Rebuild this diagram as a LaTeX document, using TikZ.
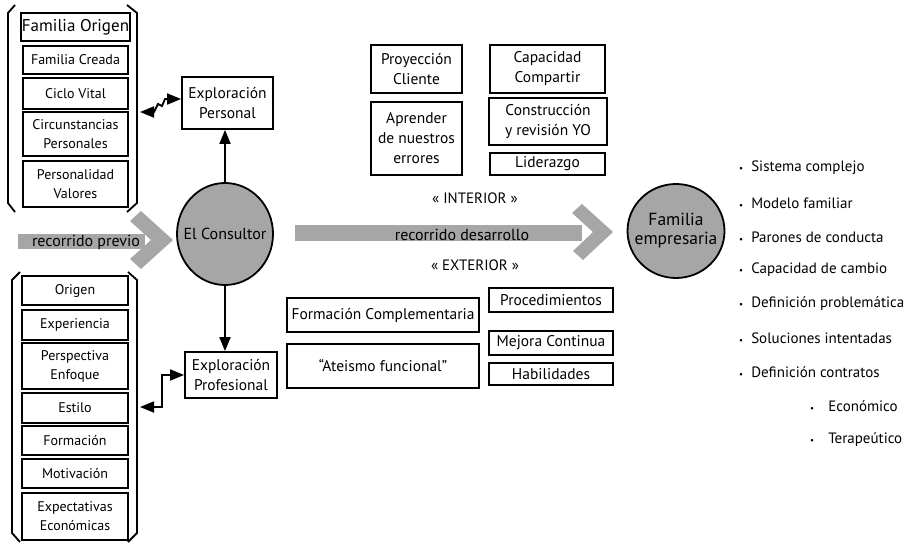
\documentclass[tikz,border=0pt]{standalone}
\usepackage{fontspec}
\setmainfont{PT Sans}
\usetikzlibrary{shapes.geometric,arrows.meta}
\definecolor{gris}{RGB}{166,166,166}
\begin{document}
\begin{tikzpicture}[x=1pt,y=-1pt,
	caja/.style={draw,line width=1.8pt,align=center,inner sep=1pt,font=\fontsize{15.5}{20}\selectfont},
	chica/.style={caja,font=\fontsize{14}{19}\selectfont},
	bola/.style={ellipse,draw,line width=1.8pt,fill=gris,inner sep=0pt,font=\fontsize{16}{21}\selectfont},
	llave/.style={line width=1.8pt},
	flecha/.style={line width=1.8pt,-{Triangle[length=14pt,width=11pt]}},
	dflecha/.style={line width=1.8pt,{Triangle[length=14pt,width=11pt]}-{Triangle[length=14pt,width=11pt]}},
	lista/.style={anchor=west,inner sep=0pt,font=\fontsize{15}{17}\selectfont},
	rotulo/.style={inner sep=0pt,font=\fontsize{15}{17}\selectfont}]
	\useasboundingbox (0,0) rectangle (917,543);
	
	%consultor
	\node[bola,minimum width=96pt,minimum height=102pt](cons) at (225,234) {\makebox[0pt]{El Consultor}};
	\node[caja,minimum width=91pt,minimum height=52pt](expers) at (227.5,103) {Exploración\\Personal};
	\node[caja,minimum width=92pt,minimum height=46pt](exprof) at (231,375) {Exploración\\Profesional};
	\draw[flecha] (cons.north) -- (cons.north |- expers.south);
	\draw[flecha] (cons.south) -- (cons.south |- exprof.north);
	
	%personal
	\draw[llave] (15,5) -- (8,13) -- (8,203) -- (15,212);
	\draw[llave] (127,5) -- (137,13) -- (137,203) -- (127,212);
	\node[caja,font=\fontsize{17}{20}\selectfont,minimum width=105pt,minimum height=28pt](forig) at (75.5,27) {Familia Origen};
	\node[chica,minimum width=105pt,minimum height=28pt](fcrea) at (75.5,60) {Familia Creada};
	\node[chica,minimum width=105pt,minimum height=31pt](ciclo) at (75.5,93.5) {Ciclo Vital};
	\node[chica,minimum width=105pt,minimum height=44pt](circ) at (75.5,134) {Circunstancias\\Personales};
	\node[chica,minimum width=105pt,minimum height=46pt](perso) at (75.5,184) {Personalidad\\Valores};
	\coordinate (llavesup) at (140,112);
	\draw[dflecha] (llavesup) -- (154,112) -- (158,104) -- (162,106) -- (165,99) -- ([yshift=4pt]expers.west);
	
	%profesional
	\draw[llave] (20,272) -- (12,280) -- (12,533) -- (20,542);
	\draw[llave] (128,272) -- (137,280) -- (137,533) -- (128,542);
	\node[chica,minimum width=106pt,minimum height=29pt](orig) at (75,290.5) {Origen};
	\node[chica,minimum width=106pt,minimum height=30pt](exper) at (75,325) {Experiencia};
	\node[chica,minimum width=106pt,minimum height=46pt](persp) at (75,366) {Perspectiva\\Enfoque};
	\node[chica,minimum width=106pt,minimum height=30pt](estil) at (75,408) {Estilo};
	\node[chica,minimum width=106pt,minimum height=29pt](forma) at (75,440.5) {Formación};
	\node[chica,minimum width=106pt,minimum height=29pt](motiv) at (75,473.5) {Motivación};
	\node[chica,minimum width=106pt,minimum height=47pt](expec) at (75,516.5) {Expectativas\\Económicas};
	\coordinate (llaveinf) at (140,407);
	\draw[dflecha] (llaveinf) -- (162,407) -- (162,375) -- (exprof.west);
	
	%recorridos
	\fill[gris] (18,234) rectangle (145,249);
	\fill[gris] (130,221) -- (141,211) -- (173,240) -- (141,269) -- (130,259) -- (151,240) -- cycle;
	\node[rotulo,font=\fontsize{16}{18}\selectfont](previo) at (86,242) {recorrido previo};
	\fill[gris] (295,225) rectangle (582,241);
	\fill[gris] (572,213) -- (582,204) -- (613,232) -- (583,260) -- (573,251) -- (593,232) -- cycle;
	\node[rotulo,font=\fontsize{16}{18}\selectfont](desarr) at (462,235) {recorrido desarrollo};
	\node[rotulo](inter) at (475,198) {« INTERIOR »};
	\node[rotulo](exter) at (475,265) {« EXTERIOR »};
	
	%interior
	\node[caja,minimum width=91pt,minimum height=48pt](proy) at (416.5,69) {Proyección\\Cliente};
	\node[caja,minimum width=115pt,minimum height=48pt](capac) at (547.5,69) {Capacidad\\Compartir};
	\node[caja,minimum width=91pt,minimum height=73pt](apren) at (416.5,138.5) {Aprender\\de nuestros\\errores};
	\node[caja,minimum width=118pt,minimum height=47pt](constr) at (548,121.5) {Construcción\\y revisión YO};
	\node[caja,minimum width=115pt,minimum height=22pt](lider) at (547.5,164) {Liderazgo};
	
	%exterior
	\node[caja,minimum width=192pt,minimum height=34pt](fcomp) at (383,315) {Formación Complementaria};
	\node[caja,minimum width=192pt,minimum height=44pt](ateis) at (383,366) {“Ateismo funcional”};
	\node[caja,minimum width=124pt,minimum height=24pt](proced) at (551,300) {Procedimientos};
	\node[caja,minimum width=124pt,minimum height=24pt](mejora) at (551,343) {Mejora Continua};
	\node[caja,minimum width=124pt,minimum height=22pt](habil) at (551,374) {Habilidades};
	
	%familia
	\node[bola,font=\fontsize{17.5}{21}\selectfont,minimum width=97pt,minimum height=94pt](fam) at (676,231) {\makebox[0pt]{\begin{tabular}{@{}c@{}}Familia\\[-2pt]empresaria\end{tabular}}};
	\node[lista](l1) at (739,168) {{\small•}\hspace{8pt}Sistema complejo};
	\node[lista](l2) at (739,203) {{\small•}\hspace{8pt}Modelo familiar};
	\node[lista](l3) at (739,237) {{\small•}\hspace{8pt}Parones de conducta};
	\node[lista](l4) at (739,270) {{\small•}\hspace{8pt}Capacidad de cambio};
	\node[lista](l5) at (739,304) {{\small•}\hspace{8pt}Definición problemática};
	\node[lista](l6) at (739,338) {{\small•}\hspace{8pt}Soluciones intentadas};
	\node[lista](l7) at (739,372) {{\small•}\hspace{8pt}Definición contratos};
	\node[lista](l8) at (810,406) {{\small•}\hspace{14pt}Económico};
	\node[lista](l9) at (810,440) {{\small•}\hspace{14pt}Terapeútico};
	\end{tikzpicture}
\end{document}
